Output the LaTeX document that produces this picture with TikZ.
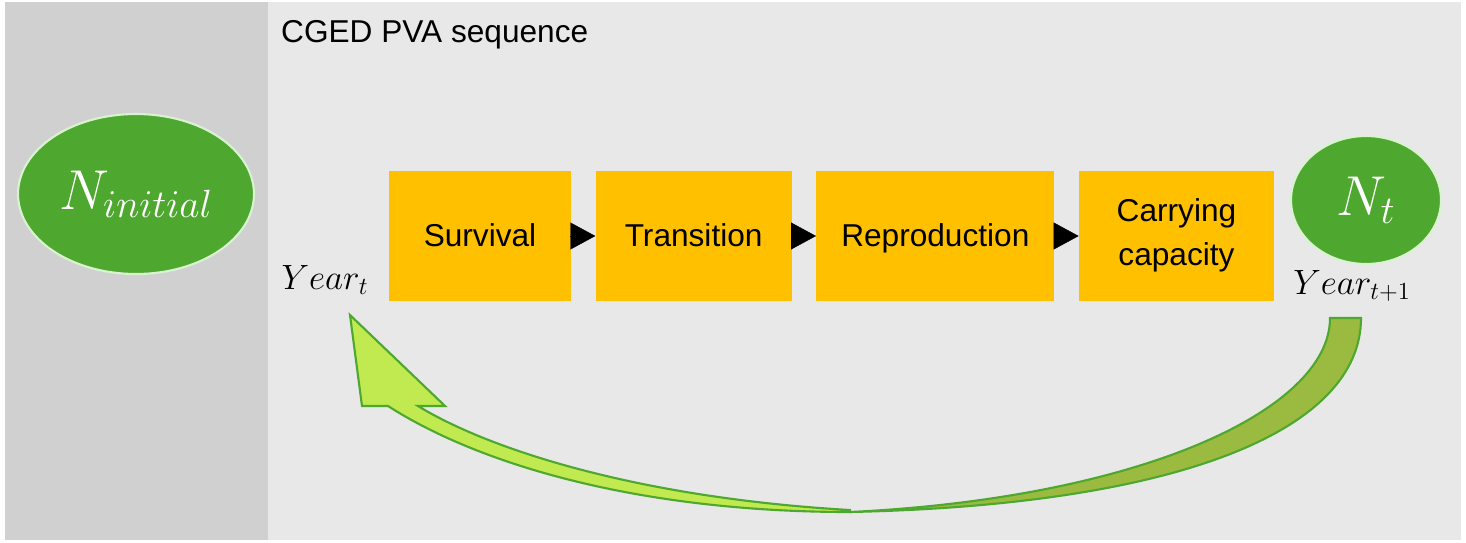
\RequirePackage{fix-cm}
\documentclass[tikz,border=0pt]{standalone}
\usepackage{amsmath}
\usepackage[no-math]{fontspec}
\setmainfont{Liberation Sans}
\usepackage{tikz}
\definecolor{leftpanel}{RGB}{208,208,208}
\definecolor{rightpanel}{RGB}{232,232,232}
\definecolor{popgreen}{RGB}{78,167,46}
\definecolor{popedge}{RGB}{217,242,208}
\definecolor{stepyellow}{RGB}{255,192,0}
\definecolor{loopfront}{RGB}{192,234,80}
\definecolor{loopback}{RGB}{155,187,64}
\usetikzlibrary{positioning,arrows.meta,shapes.geometric}
\newcommand*{\steprule}{\rule[-4pt]{0pt}{20pt}}
\tikzset{%
  pop/.style={ellipse, draw=popedge, line width=1.2pt, fill=popgreen,
    text=white, inner sep=0pt, font=\fontsize{32}{36}\selectfont},% population ellipse
  stepbox/.style={rectangle, fill=stepyellow, minimum height=2.62cm, inner sep=0pt,
    align=center, font=\fontsize{18}{25}\selectfont,
    execute at begin node=\steprule},% model step
  steparrow/.style={-{Triangle[length=0.5cm,width=0.54cm]}, black, line width=0.2pt},% step to step
  yearlbl/.style={font=\fontsize{20}{24}\selectfont},% year under/near population
  loopshape/.style={draw=popgreen, line width=1.2pt, line join=miter}% curved return arrow
}

\begin{document}
\begin{tikzpicture}[x=0.02cm, y=-0.02cm]
\useasboundingbox (0,0) rectangle (1466,542);
\fill[leftpanel] (5,2) rectangle (268,540);
\fill[rightpanel] (268,2) rectangle (1461,540);

\node[anchor=west, font=\fontsize{18}{22}\selectfont] (title) at (275,35) {CGED PVA sequence};

\node[pop, minimum width=4.72cm, minimum height=3.2cm] (ninit) at (136,194) {$N_{initial}$};
\node[pop, minimum width=3cm, minimum height=2.56cm] (nt) at (1366,200) {$N_t$\hspace{0.3em}};

\node[stepbox, minimum width=3.64cm] (surv) at (480,236) {Survival};
\node[stepbox, minimum width=3.92cm, right=0.48cm of surv] (trans) {Transition};
\node[stepbox, minimum width=4.76cm, right=0.48cm of trans] (repro) {Reproduction};
\node[stepbox, minimum width=3.9cm, right=0.48cm of repro] (carry) {Carrying\\capacity};

\foreach \a/\b in {surv/trans, trans/repro, repro/carry}
  \draw[steparrow] (\a) -- (\b);

\node[yearlbl] (yt) at (325,280) {$Year_t$};
\node[yearlbl] (yt1) at (1352,286) {$Year_{t+1}$};

% return arrow, back face then front face
\filldraw[loopshape, fill=loopback] (1330,318) -- (1361,318)
  .. controls (1361,430) and (1180,505) .. (850,512)
  .. controls (1140,498) and (1330,410) .. (1330,318) -- cycle;
\filldraw[loopshape, fill=loopfront] (850,512)
  .. controls (640,512) and (480,465) .. (388,406)
  -- (362,406) -- (350,315) -- (445,406) -- (418,406)
  .. controls (490,450) and (640,498) .. (850,510) -- cycle;
\end{tikzpicture}
\end{document}
